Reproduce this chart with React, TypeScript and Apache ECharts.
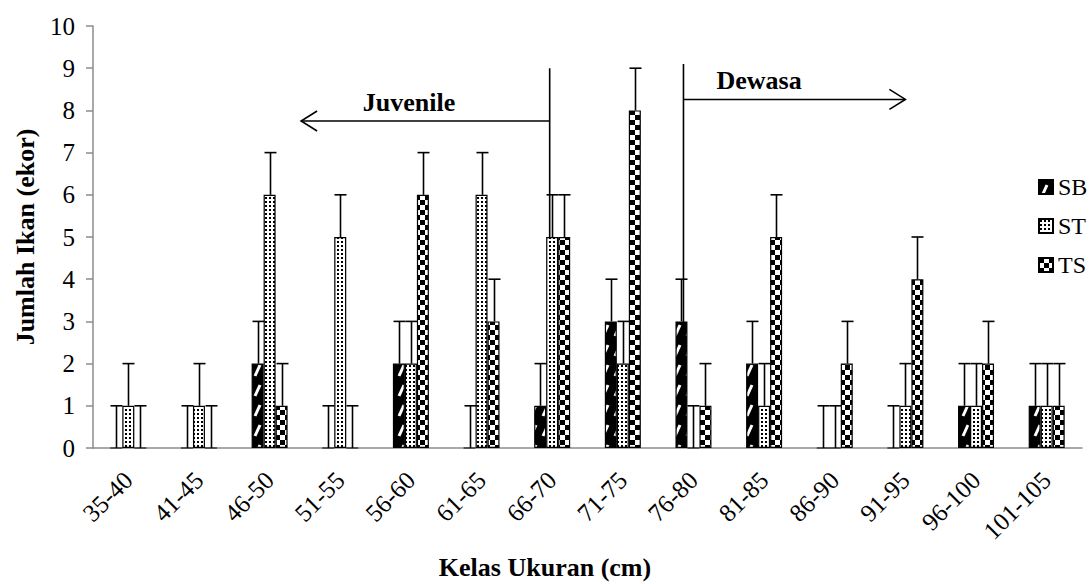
import React, { useEffect, useRef } from 'react';
import * as echarts from 'echarts';

const categories = ['35-40', '41-45', '46-50', '51-55', '56-60', '61-65', '66-70', '71-75', '76-80', '81-85', '86-90', '91-95', '96-100', '101-105'];
const sbValues = [0, 0, 2, 0, 2, 0, 1, 3, 3, 2, 0, 0, 1, 1];
const stValues = [1, 1, 6, 5, 2, 6, 5, 2, 0, 1, 0, 1, 1, 1];
const tsValues = [0, 0, 1, 0, 6, 3, 5, 8, 1, 5, 2, 4, 2, 1];
const sbErrors = [1, 1, 1, 1, 1, 1, 1, 1, 1, 1, 1, 1, 1, 1];
const stErrors = [1, 1, 1, 1, 1, 1, 1, 1, 1, 1, 1, 1, 1, 1];
const tsErrors = [1, 1, 1, 1, 1, 1, 1, 1, 1, 1, 1, 1, 1, 1];
const seriesNames = ['SB', 'ST', 'TS'];
const yAxisTitle = 'Jumlah Ikan (ekor)';
const xAxisTitle = 'Kelas Ukuran (cm)';
const juvenileLabel = 'Juvenile';
const dewasaLabel = 'Dewasa';

const FONT = 'Liberation Serif, Times New Roman, serif';
const BAR_W = 12;

function makePattern(w: number, h: number, draw: (ctx: CanvasRenderingContext2D) => void) {
  const c = document.createElement('canvas');
  c.width = w;
  c.height = h;
  const ctx = c.getContext('2d') as CanvasRenderingContext2D;
  draw(ctx);
  return { image: c.toDataURL(), repeat: 'repeat', imageWidth: w, imageHeight: h };
}

function errorSeries(name: string, values: number[], errs: number[], offset: number) {
  return {
    type: 'custom',
    name: name + '-err',
    z: 4,
    silent: true,
    encode: { x: 0, y: [1, 2] },
    data: values.map((v, i) => [i, v, v + errs[i]]),
    renderItem: (params: any, api: any) => {
      const i = api.value(0);
      const lo = api.coord([i, api.value(1)]);
      const hi = api.coord([i, api.value(2)]);
      const x = Math.round(lo[0] + offset) + 0.5;
      return {
        type: 'group',
        children: [
          { type: 'line', shape: { x1: x, y1: lo[1], x2: x, y2: hi[1] }, style: { stroke: '#000', lineWidth: 1.6 } },
          { type: 'line', shape: { x1: x - 6, y1: hi[1], x2: x + 6, y2: hi[1] }, style: { stroke: '#000', lineWidth: 1.6 } },
        ],
      };
    },
  };
}

export default function App() {
  const ref = useRef<HTMLDivElement>(null);
  useEffect(() => {
    document.body.style.margin = '0';
    if (!ref.current) return;
    const chart = echarts.init(ref.current, null, { renderer: 'svg' });

    const sbPattern = makePattern(12, 20, (ctx) => {
      ctx.fillStyle = '#000';
      ctx.fillRect(0, 0, 12, 20);
      ctx.strokeStyle = '#fff';
      ctx.lineWidth = 3;
      ctx.beginPath();
      ctx.moveTo(3, 16);
      ctx.lineTo(8, 5);
      ctx.stroke();
    });
    const stPattern = makePattern(4, 4, (ctx) => {
      ctx.fillStyle = '#fff';
      ctx.fillRect(0, 0, 4, 4);
      ctx.fillStyle = '#000';
      ctx.fillRect(1, 1, 2, 2);
    });
    const tsPattern = makePattern(10, 10, (ctx) => {
      ctx.fillStyle = '#fff';
      ctx.fillRect(0, 0, 10, 10);
      ctx.fillStyle = '#000';
      ctx.fillRect(0, 0, 5, 5);
      ctx.fillRect(5, 5, 5, 5);
    });
    const patterns = [sbPattern, stPattern, tsPattern];
    const valueSets = [sbValues, stValues, tsValues];
    const errSets = [sbErrors, stErrors, tsErrors];

    const barSeries = seriesNames.map((name, k) => ({
      type: 'bar',
      name,
      data: valueSets[k],
      barWidth: BAR_W,
      barGap: '0%',
      z: 2,
      itemStyle: { color: patterns[k], borderColor: '#000', borderWidth: 1.2 },
    }));
    const errSeries = seriesNames.map((name, k) => errorSeries(name, valueSets[k], errSets[k], (k - 1) * BAR_W));

    chart.setOption({
      animation: false,
      backgroundColor: '#fff',
      textStyle: { fontFamily: FONT },
      grid: { left: 93, right: 8, top: 26, bottom: 136, containLabel: false },
      legend: {
        data: seriesNames,
        orient: 'vertical',
        left: 1033,
        top: 170,
        itemWidth: 14,
        itemHeight: 14,
        itemGap: 15,
        textStyle: { fontFamily: FONT, fontSize: 24, color: '#000' },
        icon: 'rect',
        selectedMode: false,
      },
      xAxis: {
        type: 'category',
        data: categories,
        axisLine: { lineStyle: { color: '#8c8c8c', width: 1.5 } },
        axisTick: { show: false },
        axisLabel: { rotate: 45, fontFamily: FONT, fontSize: 25, color: '#000', margin: 28, interval: 0 },
      },
      yAxis: {
        type: 'value',
        min: 0,
        max: 10,
        interval: 1,
        splitLine: { show: false },
        axisLine: { show: true, lineStyle: { color: '#8c8c8c', width: 1.5 } },
        axisTick: { show: true, inside: false, length: 7, lineStyle: { color: '#8c8c8c', width: 1.5 } },
        axisLabel: { fontFamily: FONT, fontSize: 25, color: '#000', margin: 18 },
      },
      series: [...barSeries, ...errSeries],
    });

    const px = (i: number) => chart.convertToPixel({ xAxisIndex: 0 }, i) as number;
    const py = (v: number) => chart.convertToPixel({ yAxisIndex: 0 }, v) as number;
    const lineStyle = { stroke: '#000', lineWidth: 1.6 };
    const juvX = px(6) - 2.5;
    const juvY = py(7.75);
    const juvTip = px(2) + 31.5;
    const dewX = px(8) - 10;
    const dewY = py(8.26);
    const dewTip = px(11);
    const titleFont = 'bold 26px ' + FONT;

    chart.setOption({
      graphic: [
        { type: 'line', z: 1, shape: { x1: juvX, y1: py(9.0), x2: juvX, y2: py(0) }, style: lineStyle },
        { type: 'line', z: 1, shape: { x1: juvTip, y1: juvY, x2: juvX, y2: juvY }, style: lineStyle },
        { type: 'polyline', z: 1, shape: { points: [[juvTip + 16, juvY - 10], [juvTip, juvY], [juvTip + 16, juvY + 10]] }, style: { ...lineStyle, fill: null } },
        { type: 'line', z: 1, shape: { x1: dewX, y1: py(9.1), x2: dewX, y2: py(0) }, style: lineStyle },
        { type: 'line', z: 1, shape: { x1: dewX, y1: dewY, x2: dewTip, y2: dewY }, style: lineStyle },
        { type: 'polyline', z: 1, shape: { points: [[dewTip - 16, dewY - 10], [dewTip, dewY], [dewTip - 16, dewY + 10]] }, style: { ...lineStyle, fill: null } },
        { type: 'text', z: 5, x: 409, y: juvY - 18, style: { text: juvenileLabel, font: titleFont, textAlign: 'center', textVerticalAlign: 'middle', fill: '#000' } },
        { type: 'text', z: 5, x: dewX + 33, y: dewY - 19, style: { text: dewasaLabel, font: titleFont, textAlign: 'left', textVerticalAlign: 'middle', fill: '#000' } },
        { type: 'text', z: 5, x: 25, y: (py(0) + py(10)) / 2, rotation: Math.PI / 2, style: { text: yAxisTitle, font: titleFont, textAlign: 'center', textVerticalAlign: 'middle', fill: '#000' } },
        { type: 'text', z: 5, x: 545, y: 567, style: { text: xAxisTitle, font: titleFont, textAlign: 'center', textVerticalAlign: 'middle', fill: '#000' } },
      ],
    });

    return () => chart.dispose();
  }, []);
  return <div ref={ref} style={{ width: 1090, height: 584 }} />;
}
